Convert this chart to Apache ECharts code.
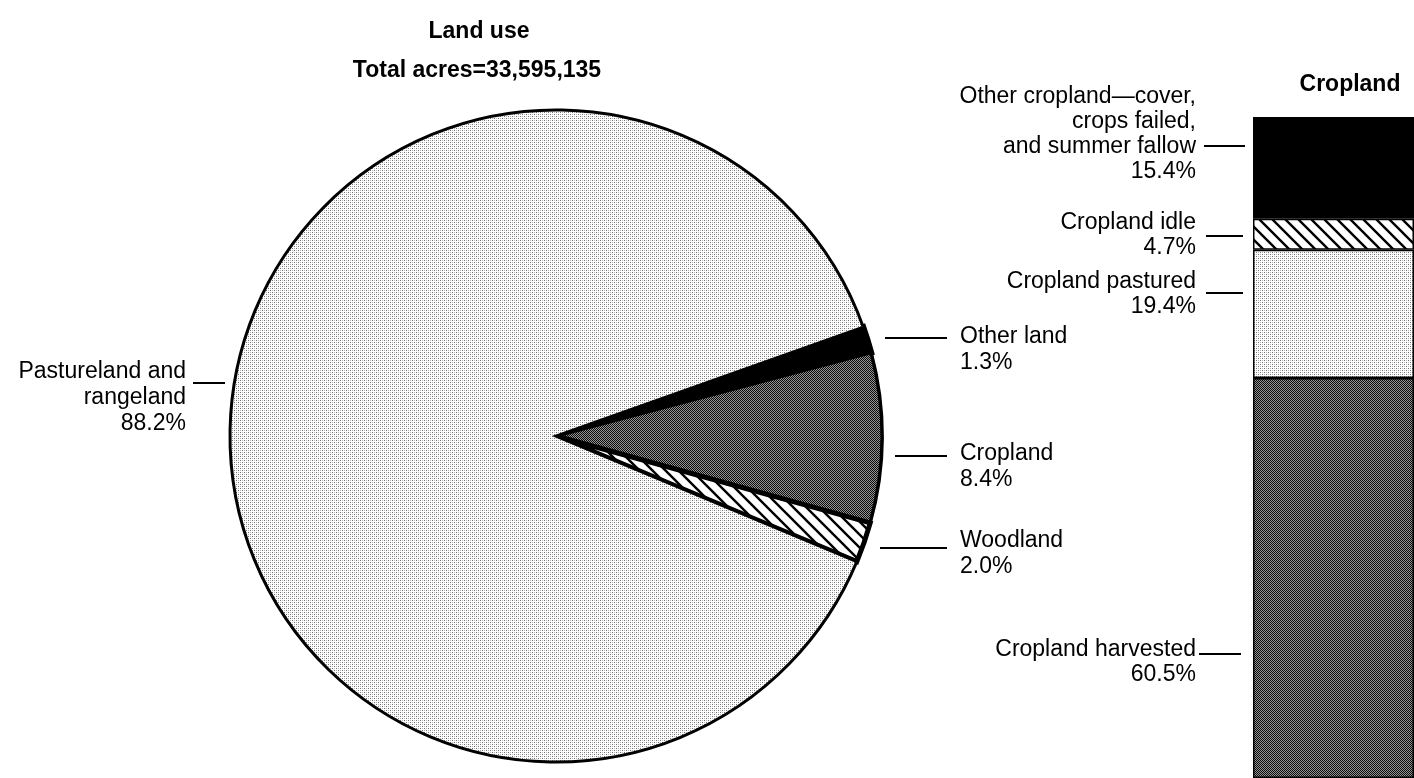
<!DOCTYPE html>
<html>
<head>
<meta charset="utf-8">
<title>Land use</title>
<script src="https://cdn.jsdelivr.net/npm/echarts@6/dist/echarts.min.js"></script>
<style>
html, body { margin: 0; padding: 0; background: #fff; }
#chart { width: 1414px; height: 778px; }
</style>
</head>
<body>
<div id="chart"></div>
<script>
// land use shares (%), slices go clockwise from the upper right
var landNames = ['Other land', 'Cropland', 'Woodland', 'Pastureland and\nrangeland'];
var landShares = [1.3, 8.4, 2.0, 88.2];
// cropland breakdown (%), stacked bottom -> top
var cropNames = ['Cropland harvested', 'Cropland pastured', 'Cropland idle', 'Other cropland\u2014cover,\ncrops failed,\nand summer fallow'];
var cropShares = [60.5, 19.4, 4.7, 15.4];
var totalAcres = '33,595,135';

// where the labels sit (text anchor + leader line), same order as the data
var pieLabelPos = [
  {x: 960, y: 324, align: 'left', line: [[885, 338], [947, 338]]},
  {x: 960, y: 441, align: 'left', line: [[895, 456], [947, 456]]},
  {x: 960, y: 528, align: 'left', line: [[880, 548], [947, 548]]},
  {x: 186, y: 359, align: 'right', line: [[193, 383], [225, 383]]}
];
var barLabelPos = [
  {x: 1196, y: 637, line: [[1199, 654], [1241, 654]]},
  {x: 1196, y: 269, line: [[1206, 293], [1243, 293]]},
  {x: 1196, y: 210, line: [[1206, 236], [1243, 236]]},
  {x: 1196, y: 84, line: [[1204, 146], [1245, 146]]}
];

var font = 'Liberation Sans, Arial, Helvetica, sans-serif';

// little canvas tiles to fake the printed screens
function tile(w, h, draw) {
  var c = document.createElement('canvas');
  c.width = w; c.height = h;
  var ctx = c.getContext('2d');
  ctx.fillStyle = '#fff';
  ctx.fillRect(0, 0, w, h);
  draw(ctx);
  return {image: c, repeat: 'repeat'};
}
var lightDots = tile(4, 4, function (ctx) {
  ctx.fillStyle = '#707070';
  ctx.fillRect(0, 0, 1, 1); ctx.fillRect(2, 2, 1, 1);
  ctx.fillStyle = '#b8b8b8';
  ctx.fillRect(2, 0, 1, 1); ctx.fillRect(0, 2, 1, 1);
});
var darkDots = tile(2, 2, function (ctx) {
  ctx.fillStyle = '#0a0a0a';
  ctx.fillRect(0, 0, 1, 1); ctx.fillRect(1, 1, 1, 1);
  ctx.fillStyle = '#959595';
  ctx.fillRect(1, 0, 1, 1); ctx.fillRect(0, 1, 1, 1);
});
var hatch = tile(13, 13, function (ctx) {
  ctx.strokeStyle = '#000';
  ctx.lineWidth = 2.4;
  ctx.beginPath();
  ctx.moveTo(-3, -3); ctx.lineTo(16, 16);
  ctx.moveTo(-3, 10); ctx.lineTo(3, 16);
  ctx.moveTo(10, -3); ctx.lineTo(16, 3);
  ctx.stroke();
});

var pieFills = ['#000', darkDots, hatch, lightDots];
var pieBorders = [6, 3.5, 5, 3];
var barFills = [darkDots, lightDots, hatch, '#000'];

var myChart = echarts.init(document.getElementById('chart'));

var titleStyle = {fontSize: 23, fontWeight: 'bold', fontFamily: font, color: '#000'};

var series = [{
  type: 'pie',
  center: [556, 436],
  radius: 326,
  startAngle: 19.5,
  silent: true,
  animation: false,
  avoidLabelOverlap: false,
  itemStyle: {borderColor: '#000', borderWidth: 3, borderJoin: 'miter'},
  label: {
    color: '#000', fontFamily: font, fontSize: 23, lineHeight: 26,
    formatter: function (p) { return p.name + '\n' + p.value.toFixed(1) + '%'; }
  },
  labelLine: {show: true, lineStyle: {color: '#000', width: 2}},
  labelLayout: function (p) {
    var pos = pieLabelPos[p.dataIndex];
    return {x: pos.x, y: pos.y, align: pos.align, verticalAlign: 'top', labelLinePoints: pos.line};
  },
  data: landNames.map(function (n, i) {
    return {name: n, value: landShares[i], itemStyle: {color: pieFills[i], borderWidth: pieBorders[i]}};
  })
}];

cropNames.forEach(function (n, i) {
  series.push({
    type: 'bar',
    name: n,
    stack: 'crop',
    barWidth: '100%',
    silent: true,
    animation: false,
    data: [cropShares[i]],
    itemStyle: {color: barFills[i], borderColor: '#000', borderWidth: 1.5},
    label: {
      show: true, position: 'left', color: '#000', fontFamily: font, fontSize: 23, lineHeight: 25, align: 'right',
      formatter: function (p) { return n + '\n' + p.value.toFixed(1) + '%'; }
    },
    labelLayout: function () {
      var pos = barLabelPos[i];
      return {x: pos.x, y: pos.y, align: 'right', verticalAlign: 'top'};
    }
  });
});

// leader lines for the bar labels
var leaders = barLabelPos.map(function (p) {
  return {
    type: 'line', silent: true,
    shape: {x1: p.line[0][0], y1: p.line[0][1], x2: p.line[1][0], y2: p.line[1][1]},
    style: {stroke: '#000', lineWidth: 2}
  };
});

myChart.setOption({
  animation: false,
  backgroundColor: '#fff',
  title: [
    {text: 'Land use', left: 474, top: 15, textAlign: 'center', textStyle: titleStyle},
    {text: 'Total acres=' + totalAcres, left: 472, top: 54, textAlign: 'center', textStyle: titleStyle},
    {text: 'Cropland', left: 1345, top: 68, textAlign: 'center', textStyle: titleStyle}
  ],
  grid: {left: 1253, top: 117, width: 180, bottom: 0, containLabel: false},
  xAxis: {type: 'category', data: ['Cropland'], show: false},
  yAxis: {type: 'value', min: 0, max: 100, show: false},
  graphic: leaders,
  series: series
});
</script>
</body>
</html>
